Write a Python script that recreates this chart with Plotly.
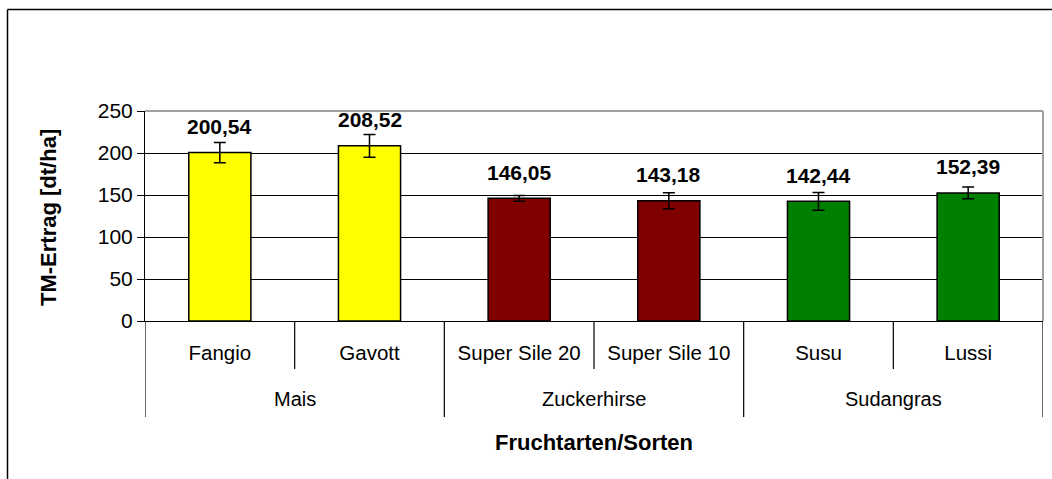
import plotly.graph_objects as go

# ---- data ----
groups = ["Mais", "Mais", "Zuckerhirse", "Zuckerhirse", "Sudangras", "Sudangras"]
varieties = ["Fangio", "Gavott", "Super Sile 20", "Super Sile 10", "Susu", "Lussi"]
yields = [200.54, 208.52, 146.05, 143.18, 142.44, 152.39]
errors = [12.0, 13.5, 3.5, 9.5, 10.5, 7.0]
bar_colors = ["#FFFF00", "#FFFF00", "#800000", "#800000", "#008000", "#008000"]
y_ticks = [0, 50, 100, 150, 200, 250]

FONT = "Liberation Sans, Arial, sans-serif"
W, H = 1052, 479
L, R, T, B = 145, 9, 111, 158
PW, PH = W - L - R, H - T - B


def px_to_paper_x(px):
    return (px - L) / PW


def px_to_paper_y(py):
    return (H - B - py) / PH


fig = go.Figure()
fig.add_trace(go.Bar(
    x=varieties, y=yields,
    marker=dict(color=bar_colors, line=dict(color="black", width=1.5)),
    width=0.415,
    error_y=dict(type="data", array=errors, color="black", thickness=1.5, width=6),
    hoverinfo="x+y",
))

annotations = []
# data labels
for v, val in zip(varieties, yields):
    annotations.append(dict(
        x=v, y=val, xref="x", yref="y", yshift=26, yanchor="middle",
        text="<b>" + f"{val:.2f}".replace(".", ",") + "</b>",
        showarrow=False, font=dict(family=FONT, size=21, color="black"),
    ))

# group labels and dividers
shapes = []
n = len(varieties)
y_inner = px_to_paper_y(369)
y_outer = px_to_paper_y(417)
start = 0
group_spans = []
for i in range(1, n + 1):
    if i == n or groups[i] != groups[start]:
        group_spans.append((groups[start], start, i - 1))
        start = i
for name, s, e in group_spans:
    annotations.append(dict(
        x=(s + e) / 2, y=px_to_paper_y(399), xref="x", yref="paper",
        text=name, showarrow=False, yanchor="middle",
        font=dict(family=FONT, size=20, color="black"),
    ))
boundaries = [b - 0.5 for b in range(n + 1)]
group_edges = set([s - 0.5 for _, s, _ in group_spans] + [e + 0.5 for _, _, e in group_spans])
for bpos in boundaries:
    y1 = y_outer if bpos in group_edges else y_inner
    shapes.append(dict(type="line", xref="x", yref="paper", x0=bpos, x1=bpos,
                       y0=0, y1=y1, line=dict(color="black", width=1.2)))

# plot area border (top and right) in gray
shapes.append(dict(type="line", xref="paper", yref="paper", x0=0, x1=1, y0=1, y1=1,
                   line=dict(color="#A0A0A0", width=2)))
shapes.append(dict(type="line", xref="paper", yref="paper", x0=1, x1=1, y0=0, y1=1,
                   line=dict(color="#A0A0A0", width=2)))

# outer chart frame (only left and top visible)
fx = px_to_paper_x(7.5)
fy = px_to_paper_y(9.5)
shapes.append(dict(type="line", xref="paper", yref="paper", x0=fx, x1=fx, y0=-2, y1=fy,
                   line=dict(color="black", width=1.5)))
shapes.append(dict(type="line", xref="paper", yref="paper", x0=fx, x1=2, y0=fy, y1=fy,
                   line=dict(color="black", width=1.5)))

# axis titles
annotations.append(dict(
    x=px_to_paper_x(48), y=px_to_paper_y(218), xref="paper", yref="paper", textangle=-90,
    text="<b>TM-Ertrag [dt/ha]</b>", showarrow=False, xanchor="center", yanchor="middle",
    font=dict(family=FONT, size=22, color="black"),
))
annotations.append(dict(
    x=px_to_paper_x(593.5), y=px_to_paper_y(442), xref="paper", yref="paper",
    text="<b>Fruchtarten/Sorten</b>", showarrow=False, xanchor="center", yanchor="middle",
    font=dict(family=FONT, size=22, color="black"),
))

fig.update_layout(
    width=W, height=H,
    margin=dict(l=L, r=R, t=T, b=B, autoexpand=False),
    paper_bgcolor="white", plot_bgcolor="white",
    showlegend=False,
    font=dict(family=FONT, size=20, color="black"),
    annotations=annotations, shapes=shapes,
    xaxis=dict(
        type="category", range=[-0.5, n - 0.5],
        showline=True, linecolor="black", linewidth=1,
        showgrid=False, ticks="", ticklabelstandoff=13,
        tickfont=dict(family=FONT, size=20.5, color="black"),
        fixedrange=True,
    ),
    yaxis=dict(
        range=[0, 250], tickvals=y_ticks, ticktext=[str(t) for t in y_ticks],
        showline=True, linecolor="black", linewidth=1,
        showgrid=True, gridcolor="black", gridwidth=1,
        ticks="outside", ticklen=7, tickcolor="black", tickwidth=1,
        tickfont=dict(family=FONT, size=21, color="black"),
        zeroline=False, fixedrange=True,
    ),
)

fig.write_html("out.html", config={"displayModeBar": False},
               post_script="document.body.style.margin='0';document.body.style.overflow='hidden';")
